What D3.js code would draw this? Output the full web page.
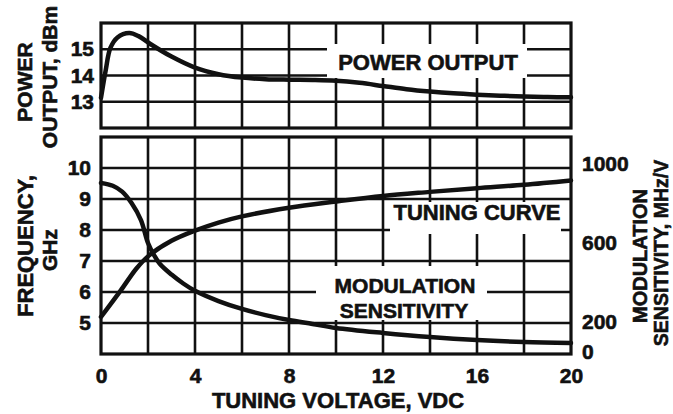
<!DOCTYPE html>
<html><head><meta charset="utf-8">
<script src="https://cdn.jsdelivr.net/npm/d3@7"></script>
<style>
html,body{margin:0;padding:0;background:#fff;}
svg{display:block;}
text{font-family:"Liberation Sans",Arial,Helvetica,sans-serif;font-weight:bold;fill:#111;stroke:#111;stroke-width:0.6px;}
</style></head>
<body>
<svg id="c" width="673" height="414"></svg>
<script>
// ---- data ----
const xTicks = [0, 4, 8, 12, 16, 20];
const xGrid = [2, 4, 6, 8, 10, 12, 14, 16, 18];
const powerTicks = [13, 14, 15];
const freqTicks = [5, 6, 7, 8, 9, 10];
const sensTicks = [0, 200, 600, 1000];

const powerV   = [0, 0.2, 0.4, 0.7, 1.2, 1.6, 2.1, 3, 4, 5, 6, 7, 8, 9, 10, 11, 12, 13, 14, 15, 16, 17, 18, 19, 20];
const powerDbm = [13.15, 14.2, 15.05, 15.45, 15.62, 15.5, 15.2, 14.72, 14.3, 14.05, 13.92, 13.86, 13.84, 13.83, 13.8, 13.72, 13.6, 13.48, 13.39, 13.32, 13.27, 13.23, 13.2, 13.18, 13.17];

const tuneV   = [0, 0.4, 0.85, 1.5, 2, 3, 4, 5, 6, 8, 10, 12, 14, 16, 18, 20];
const tuneGHz = [5.2, 5.6, 6.06, 6.75, 7.15, 7.65, 7.98, 8.24, 8.44, 8.72, 8.92, 9.1, 9.23, 9.35, 9.46, 9.6];

const sensV   = [0, 0.5, 0.9, 1.3, 1.7, 2, 2.25, 2.5, 3, 3.5, 4, 5, 6, 7, 8, 9, 10, 12, 14, 16, 18, 20];
const sensMHz = [904, 890, 860, 802, 716, 600, 540, 495, 440, 395, 358, 306, 266, 235, 210, 187, 160, 127, 100, 80, 67, 60];

// ---- layout ----
const svg = d3.select("#c");
const x = d3.scaleLinear().domain([0, 20]).range([101, 571]);
const yPow = d3.scaleLinear().domain([12, 16]).range([128, 23]);
const yFreq = d3.scaleLinear().domain([4, 11]).range([354, 137]);
const ySens = d3.scaleLinear().domain([0, 200, 1000]).range([352, 322, 164]);

const ink = "#111";
const gridW = 2.6, frameW = 3.2, curveW = 4.5;

function panelGrid(yScale, hTicks) {
  const g = svg.append("g");
  const [y0, y1] = yScale.range();
  const top = Math.min(y0, y1), bot = Math.max(y0, y1);
  g.selectAll(".v").data(xGrid).join("line")
    .attr("x1", d => x(d)).attr("x2", d => x(d))
    .attr("y1", top).attr("y2", bot)
    .attr("stroke", ink).attr("stroke-width", gridW);
  g.selectAll(".h").data(hTicks).join("line")
    .attr("x1", x(0)).attr("x2", x(20))
    .attr("y1", d => yScale(d)).attr("y2", d => yScale(d))
    .attr("stroke", ink).attr("stroke-width", gridW);
  return g;
}
panelGrid(yPow, powerTicks);
panelGrid(yFreq, freqTicks);

// white label boxes hiding grid
function box(x0, y0, x1, y1) {
  svg.append("rect").attr("x", x0).attr("y", y0).attr("width", x1 - x0).attr("height", y1 - y0).attr("fill", "#fff");
}
box(327, 44, 527, 78);
box(390, 202, 561, 234);
box(316, 266, 487, 320);

// frames
svg.append("rect").attr("x", x(0)).attr("y", yPow(16)).attr("width", x(20) - x(0)).attr("height", yPow(12) - yPow(16))
  .attr("fill", "none").attr("stroke", ink).attr("stroke-width", frameW);
svg.append("rect").attr("x", x(0)).attr("y", yFreq(11)).attr("width", x(20) - x(0)).attr("height", yFreq(4) - yFreq(11))
  .attr("fill", "none").attr("stroke", ink).attr("stroke-width", frameW);

// curves
function curve(xs, ys, yScale) {
  const pts = xs.map((v, i) => [v, ys[i]]);
  svg.append("path").datum(pts)
    .attr("d", d3.line().x(d => x(d[0])).y(d => yScale(d[1])).curve(d3.curveCatmullRom.alpha(0.5)))
    .attr("fill", "none").attr("stroke", ink).attr("stroke-width", curveW)
    .attr("stroke-linecap", "round").attr("stroke-linejoin", "round");
}
curve(powerV, powerDbm, yPow);
curve(tuneV, tuneGHz, yFreq);
curve(sensV, sensMHz, ySens);

// axes (labels only)
function cleanAxis(g) {
  g.select(".domain").remove();
  g.selectAll(".tick line").remove();
  g.selectAll("text").attr("font-size", 21).attr("fill", ink);
}
svg.append("g").attr("transform", `translate(${x(0) - 4},0)`)
  .call(d3.axisLeft(yPow).tickValues(powerTicks).tickSize(0).tickPadding(3).tickFormat(d3.format("d")))
  .call(cleanAxis);
svg.append("g").attr("transform", `translate(${x(0) - 8},0)`)
  .call(d3.axisLeft(yFreq).tickValues(freqTicks).tickSize(0).tickPadding(2).tickFormat(d3.format("d")))
  .call(cleanAxis);
svg.append("g").attr("transform", `translate(${x(20) + 9},0)`)
  .call(d3.axisRight(ySens).tickValues(sensTicks).tickSize(0).tickPadding(2).tickFormat(d3.format("d")))
  .call(cleanAxis);
svg.append("g").attr("transform", `translate(0,${yFreq(4) + 10})`)
  .call(d3.axisBottom(x).tickValues(xTicks).tickSize(0).tickPadding(4).tickFormat(d3.format("d")))
  .call(cleanAxis);

// in-chart labels
function label(t, cx, by, size) {
  svg.append("text").attr("x", cx).attr("y", by).attr("text-anchor", "middle").attr("font-size", size).text(t);
}
label("POWER OUTPUT", 428, 70, 22);
label("TUNING CURVE", 477, 220, 22);
label("MODULATION", 405, 293, 21);
label("SENSITIVITY", 404, 318, 21);
label("TUNING VOLTAGE, VDC", 338, 408, 22);

// rotated axis titles
function vlabel(t, bx, cy, size) {
  svg.append("text").attr("transform", `translate(${bx},${cy}) rotate(-90)`)
    .attr("text-anchor", "middle").attr("font-size", size).text(t);
}
vlabel("POWER", 32, 82, 21);
vlabel("OUTPUT, dBm", 57, 77, 21);
vlabel("FREQUENCY,", 33, 246, 22);
vlabel("GHz", 57, 250, 21);
vlabel("MODULATION", 647, 256, 20);
vlabel("SENSITIVITY, MHz/V", 668, 253, 19.5);
</script>
</body></html>
